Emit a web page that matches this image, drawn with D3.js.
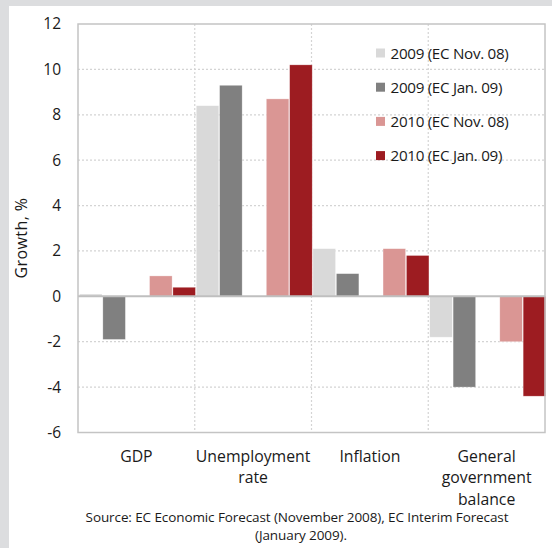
<!DOCTYPE html>
<html><head><meta charset="utf-8">
<script src="https://cdn.jsdelivr.net/npm/d3@7"></script>
<style>body{margin:0;background:#fff}svg{display:block}text{font-family:"Open Sans",sans-serif;fill:#1a1a1a}</style>
</head><body><svg id="c" width="552" height="548"></svg>
<script>
const categories = [["GDP"],["Unemployment","rate"],["Inflation"],["General","government","balance"]];
const seriesNames = ["2009 (EC Nov. 08)","2009 (EC Jan. 09)","2010 (EC Nov. 08)","2010 (EC Jan. 09)"];
const seriesColors = ["#d9d9d9","#808080","#da9694","#9d1c21"];
const s2009Nov = [0.1, 8.4, 2.1, -1.8];
const s2009Jan = [-1.9, 9.3, 1.0, -4.0];
const s2010Nov = [0.9, 8.7, 2.1, -2.0];
const s2010Jan = [0.4, 10.2, 1.8, -4.4];
const yTicks = [-6,-4,-2,0,2,4,6,8,10,12];
const series = [s2009Nov, s2009Jan, s2010Nov, s2010Jan];
const slotOf = [0,1,3,4];

const svg = d3.select("#c");
svg.append("rect").attr("width",552).attr("height",548).attr("fill","#dcdddf");
svg.append("rect").attr("x",9).attr("y",6).attr("width",543).attr("height",542).attr("fill","#fff");

const L=78, R=545, T=24, B=432.5;
const x = d3.scaleBand().domain(d3.range(categories.length)).range([L,R]).padding(0);
const y = d3.scaleLinear().domain([-6,12]).range([B,T]);

// gridlines
const g = svg.append("g");
g.selectAll(".hg").data(yTicks.filter(t=>t!==0 && t!==12 && t!==-6)).join("line")
  .attr("x1",L).attr("x2",R).attr("y1",d=>y(d)).attr("y2",d=>y(d))
  .attr("stroke","#d4d4d4").attr("stroke-width",1.2).attr("stroke-dasharray","2,2");
g.selectAll(".vg").data(d3.range(1,categories.length)).join("line")
  .attr("x1",d=>x(d)).attr("x2",d=>x(d)).attr("y1",T).attr("y2",B)
  .attr("stroke","#d4d4d4").attr("stroke-width",1.2).attr("stroke-dasharray","2,2");

// bars
const slot = x.bandwidth()/5;
series.forEach((s,si)=>{
  svg.append("g").selectAll("rect").data(s).join("rect")
    .attr("x",(d,i)=>x(i)+slot*slotOf[si]+1.5)
    .attr("width",slot-0.8)
    .attr("y",d=>Math.min(y(d),y(0)))
    .attr("height",d=>Math.abs(y(d)-y(0)))
    .attr("fill",seriesColors[si])
    .attr("stroke","#fff").attr("stroke-opacity",0.5).attr("stroke-width",0.6);
});

// zero line & frame
svg.append("line").attr("x1",L).attr("x2",R).attr("y1",y(0)).attr("y2",y(0))
  .attr("stroke","#bfbfbf").attr("stroke-width",2);
svg.append("rect").attr("x",L).attr("y",T).attr("width",R-L).attr("height",B-T)
  .attr("fill","none").attr("stroke","#c4c4c4").attr("stroke-width",1.5);

// y axis
const yAxis = d3.axisLeft(y).tickValues(yTicks).tickSize(0).tickPadding(17).tickFormat(d=>String(d));
const ya = svg.append("g").attr("transform",`translate(${L},0)`).call(yAxis);
ya.select(".domain").remove();
ya.selectAll("text").attr("font-size",15.5).style("font-family",'"Open Sans",sans-serif').attr("fill","#1a1a1a");

svg.append("text").attr("transform","translate(27,238) rotate(-90)")
  .attr("text-anchor","middle").attr("font-size",16).attr("letter-spacing",0.4).text("Growth, %");

// category labels
categories.forEach((lines,i)=>{
  const t = svg.append("text").attr("text-anchor","middle").attr("font-size",15.8);
  lines.forEach((ln,j)=>{
    t.append("tspan").attr("x",x(i)+x.bandwidth()/2).attr("y",461.5+j*21.5).text(ln);
  });
});

// legend
const lg = svg.append("g");
seriesNames.forEach((n,i)=>{
  const cy = 53+i*34.2;
  lg.append("rect").attr("x",376).attr("y",cy-4.5).attr("width",9).attr("height",9).attr("fill",seriesColors[i]);
  lg.append("text").attr("x",390.5).attr("y",cy+5.5).attr("font-size",15.2).attr("letter-spacing",-0.3).text(n);
});

// source
svg.append("text").attr("x",297).attr("y",521.5).attr("text-anchor","middle").attr("font-size",13.5).attr("letter-spacing",-0.1)
  .text("Source: EC Economic Forecast (November 2008), EC Interim Forecast");
svg.append("text").attr("x",301).attr("y",540).attr("text-anchor","middle").attr("font-size",13.5).attr("letter-spacing",-0.1)
  .text("(January 2009).");
</script></body></html>
